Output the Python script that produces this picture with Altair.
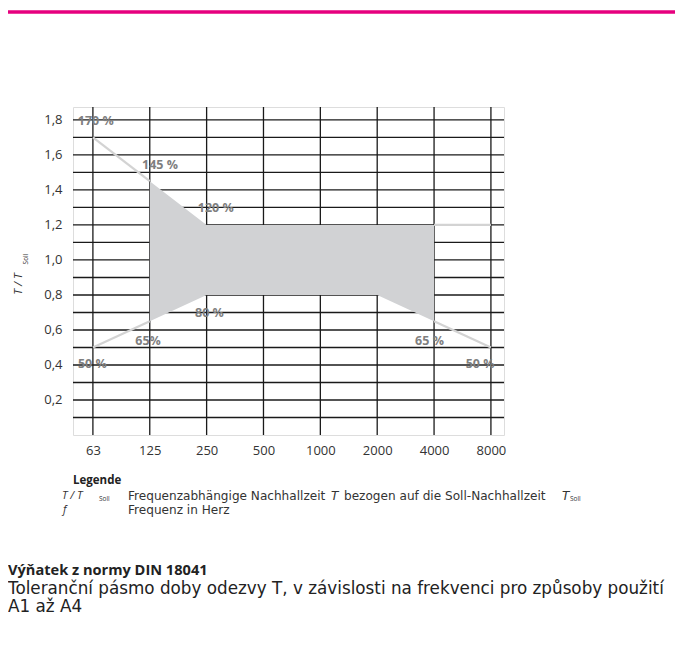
import altair as alt
import pandas as pd

# ---- data ----
freq_labels = ["63", "125", "250", "500", "1000", "2000", "4000", "8000"]
band_x = [1, 2, 5, 6]            # index into freq_labels
band_upper = [1.45, 1.2, 1.2, 1.2]
band_lower = [0.65, 0.8, 0.8, 0.65]

seg_id = [1, 1, 2, 2, 3, 3, 4, 4]
seg_x = [0, 1, 0, 1, 6, 7, 6, 7]
seg_y = [1.7, 1.45, 0.5, 0.65, 0.65, 0.5, 1.2, 1.2]

pct_text = ["170 %", "145 %", "120 %", "80 %", "65%", "50 %", "65 %", "50 %"]
pct_x = [0.05, 1.18, 2.16, 2.05, 0.97, -0.01, 5.92, 6.81]
pct_y = [1.794, 1.543, 1.297, 0.697, 0.537, 0.406, 0.537, 0.406]

y_grid = [0.1, 0.2, 0.3, 0.4, 0.5, 0.6, 0.7, 0.8, 0.9, 1.0,
          1.1, 1.2, 1.3, 1.4, 1.5, 1.6, 1.7, 1.8]
y_ticks = [0.2, 0.4, 0.6, 0.8, 1.0, 1.2, 1.4, 1.6, 1.8]

FONT = "Open Sans"
W, H = 431, 328

band_df = pd.DataFrame({"x": band_x, "lo": band_lower, "hi": band_upper})
seg_df = pd.DataFrame({"seg": seg_id, "x": seg_x, "y": seg_y})
pct_df = pd.DataFrame({"t": pct_text, "x": pct_x, "y": pct_y})
hgrid_df = pd.DataFrame({"y": y_grid})
vgrid_df = pd.DataFrame({"x": list(range(len(freq_labels)))})

xs = alt.Scale(domain=[-0.35, 7.23], nice=False, zero=False)
ys = alt.Scale(domain=[0, 1.874], nice=False, zero=False)

label_arr = "[" + ",".join("'%s'" % l for l in freq_labels) + "]"

x_axis = alt.Axis(
    values=list(range(len(freq_labels))),
    labelExpr=label_arr + "[round(datum.value)]",
    grid=False, ticks=False, domain=False, title=None,
    labelFont=FONT, labelFontSize=13, labelColor="#333333", labelPadding=9,
    labelOverlap=False,
)
y_axis = alt.Axis(
    values=y_ticks,
    labelExpr="replace(format(datum.value, '.1f'), '.', ',')",
    grid=False, ticks=False, domain=False, title=None,
    labelFont=FONT, labelFontSize=13, labelColor="#333333", labelPadding=11,
    labelOverlap=False,
)

GRID = "#1a1a1a"
hgrid = alt.Chart(hgrid_df).mark_rule(color=GRID, strokeWidth=1.3).encode(
    y=alt.Y("y:Q", scale=ys, axis=y_axis),
)
vgrid = alt.Chart(vgrid_df).mark_rule(color=GRID, strokeWidth=1.3).encode(
    x=alt.X("x:Q", scale=xs, axis=x_axis),
)

band = alt.Chart(band_df).mark_area(color="#d1d2d4", opacity=1).encode(
    x=alt.X("x:Q", scale=xs),
    y=alt.Y("lo:Q", scale=ys),
    y2="hi:Q",
)

lines = alt.Chart(seg_df).mark_line(color="#d3d3d3", strokeWidth=2.2).encode(
    x=alt.X("x:Q", scale=xs),
    y=alt.Y("y:Q", scale=ys),
    detail="seg:N",
)

pcts = alt.Chart(pct_df).mark_text(
    font=FONT, fontSize=12.5, fontWeight="bold", color="#7f7f7f",
    align="center", baseline="middle",
).encode(
    x=alt.X("x:Q", scale=xs),
    y=alt.Y("y:Q", scale=ys),
    text="t:N",
)

one = pd.DataFrame({"a": [0]})


def txt(s, x, y, size=10.5, weight="normal", style="normal", align="left",
        angle=0, color="#333333", baseline="middle", font=FONT):
    return alt.Chart(one).mark_text(
        text=s, font=font, fontSize=size, fontWeight=weight, fontStyle=style,
        align=align, baseline=baseline, angle=angle, color=color,
    ).encode(x=alt.value(x), y=alt.value(y))


ox, oy = 73, 107  # plot origin in page pixels
LF = "DejaVu Sans"
LS = 12.1

ann = [
    # pink top rule
    alt.Chart(one).mark_rule(color="#e6007e", strokeWidth=3.5).encode(
        x=alt.value(-70), x2=alt.value(620), y=alt.value(12 - oy)),
    # y axis title
    txt("T / T", 19 - ox, 284 - oy, size=11.5, style="italic", align="center", angle=270),
    txt("Soll", 26 - ox, 259 - oy, size=6.5, align="center", angle=270),
    # legend
    txt("Legende", 73 - ox, 481 - oy, size=11.5, weight="bold", color="#222222"),
    txt("T / T", 62 - ox, 496 - oy, size=11, style="italic", font=FONT),
    txt("Soll", 99 - ox, 499 - oy, size=6.5, font=FONT),
    txt("Frequenzabhängige Nachhallzeit", 128 - ox, 496 - oy, size=LS, font=LF),
    txt("T", 331 - ox, 496 - oy, size=LS, style="italic", font=LF),
    txt("bezogen auf die Soll-Nachhallzeit", 344 - ox, 496 - oy, size=LS, font=LF),
    txt("T", 562 - ox, 496 - oy, size=LS, style="italic", font=LF),
    txt("Soll", 570 - ox, 499 - oy, size=6.5, font=FONT),
    txt("f", 63 - ox, 510 - oy, size=11, style="italic", font=FONT),
    txt("Frequenz in Herz", 128 - ox, 510 - oy, size=LS, font=LF),
    # caption
    txt("Výňatek z normy DIN 18041", 8 - ox, 571 - oy, size=14.6, weight="bold", color="#222222"),
    txt("Toleranční pásmo doby odezvy T, v závislosti na frekvenci pro způsoby použití",
        8 - ox, 589 - oy, size=16.8, color="#222222", font="DejaVu Sans"),
    txt("A1 až A4", 8 - ox, 607 - oy, size=16.8, color="#222222", font="DejaVu Sans"),
]

chart = alt.layer(hgrid, vgrid, band, lines, pcts, *ann).properties(
    width=W, height=H,
    autosize=alt.AutoSizeParams(type="none"),
    padding={"left": ox - 8, "top": oy - 8, "right": 667 - (ox - 8) - W, "bottom": 632 - (oy - 8) - H},
).configure_view(stroke="#4a4a4a", strokeWidth=1.5).configure(background="white")

chart.save("out.html", embed_options={"renderer": "svg", "actions": False})
